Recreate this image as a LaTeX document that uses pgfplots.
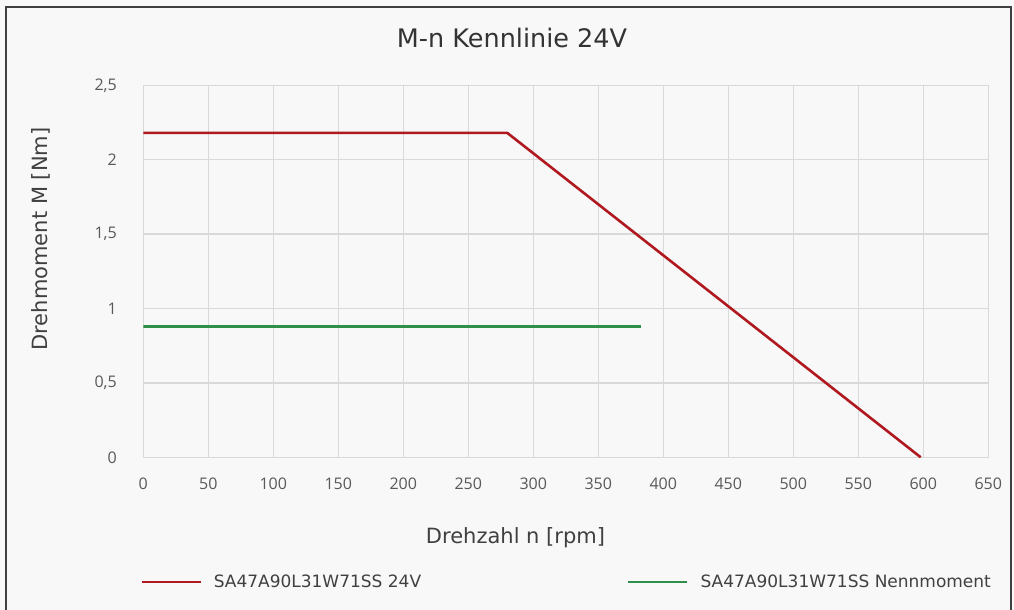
\documentclass[border=0pt]{standalone}
\usepackage{pgfplots}
\pgfplotsset{compat=1.18}
\usepackage{fontspec}
\setmainfont{DejaVu Sans}
\newfontfamily\tickfont{Open Sans}
\definecolor{bgc}{HTML}{F8F8F8}
\definecolor{gridc}{HTML}{D9D9D9}
\definecolor{redc}{HTML}{B0191F}
\definecolor{greenc}{HTML}{2E8F4A}
\definecolor{tickc}{HTML}{595959}
\definecolor{txtc}{HTML}{404040}
\definecolor{titc}{HTML}{333333}
\begin{document}
\begin{tikzpicture}[x=1pt,y=1pt]
\useasboundingbox (0,0) rectangle (1014,610);
\fill[bgc] (0,0) rectangle (1014,610);
\draw[line width=1.2pt, color=black!75] (6,-2) -- (6,603) -- (1011,603) -- (1011,-2);
\begin{axis}[
  at={(143.3pt,152.7pt)}, anchor=south west,
  width=845pt, height=372pt, scale only axis,
  xmin=0, xmax=650, ymin=0, ymax=2.5,
  xtick={0,50,100,150,200,250,300,350,400,450,500,550,600,650},
  ytick={0,0.5,1,1.5,2,2.5},
  grid=major, major grid style={gridc, line width=1.3pt},
  axis line style={gridc, line width=1.3pt},
  major tick length=0pt,
  tick label style={font=\tickfont\fontsize{16}{16}\selectfont, text=tickc},
  /pgf/number format/assume math mode=true,
  /pgf/number format/use comma,
  /pgf/number format/1000 sep={},
  xticklabel style={anchor=center, yshift=-26pt, inner sep=0pt},
  yticklabel style={anchor=east, xshift=-26.3pt, inner sep=0pt},
  legend columns=2,
  legend style={at={(-0.0039,-0.335)}, anchor=west, draw=none, fill=none,
    font=\fontsize{17}{17}\selectfont, text=txtc, inner sep=0pt,
    nodes={inner sep=0pt},
    /tikz/every odd column/.append style={column sep=12pt},
    /tikz/every even column/.append style={column sep=206pt}},
  legend image code/.code={\draw[#1] (0pt,0pt) -- (59pt,0pt);},
]
\addplot[redc, line width=2.6pt, line join=round] coordinates {(0,2.18) (280,2.18) (598,0)};
\addlegendentry{SA47A90L31W71SS 24V}
\addplot[greenc, line width=2.4pt] coordinates {(0,0.88) (383,0.88)};
\addlegendentry{SA47A90L31W71SS Nennmoment}
\end{axis}
\node[font=\fontsize{25.5}{25.5}\selectfont, text=titc] at (512,572.4) {M-n Kennlinie 24V};
\node[font=\fontsize{21}{21}\selectfont, text=txtc] at (515.5,72.5) {Drehzahl n [rpm]};
\node[font=\fontsize{21}{21}\selectfont, text=txtc, rotate=90] at (41,371) {Drehmoment M [Nm]};
\end{tikzpicture}
\end{document}
